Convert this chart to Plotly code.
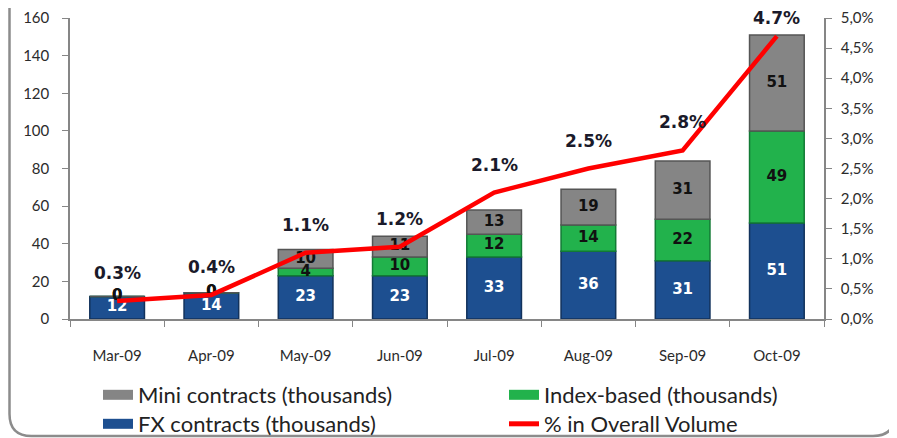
import plotly.graph_objects as go

months = ["Mar-09", "Apr-09", "May-09", "Jun-09", "Jul-09", "Aug-09", "Sep-09", "Oct-09"]
fx_contracts = [12, 14, 23, 23, 33, 36, 31, 51]
index_based = [0, 0, 4, 10, 12, 14, 22, 49]
mini_contracts = [0, 0, 10, 11, 13, 19, 31, 51]
pct_overall = [0.003, 0.004, 0.011, 0.012, 0.021, 0.025, 0.028, 0.047]
pct_labels = ["0.3%", "0.4%", "1.1%", "1.2%", "2.1%", "2.5%", "2.8%", "4.7%"]
left_ticks = [0, 20, 40, 60, 80, 100, 120, 140, 160]
right_ticks = [0, 0.005, 0.01, 0.015, 0.02, 0.025, 0.03, 0.035, 0.04, 0.045, 0.05]
right_ticktext = ["0,0%", "0,5%", "1,0%", "1,5%", "2,0%", "2,5%", "3,0%", "3,5%", "4,0%", "4,5%", "5,0%"]

# the page body adds an 8px margin, so the figure is shrunk by that much
# and every screen position below is shifted back by OFFSET
OFFSET = 8
W, H = 897 - OFFSET, 438 - OFFSET
M = {"l": 70 - OFFSET, "r": 73, "t": 18 - OFFSET, "b": 119, "autoexpand": False}

BLUE = "#1d4f90"
GREEN = "#22b24c"
GREY = "#858585"
RED = "#ff0000"
TICK_FONT = {"family": "Lato, Calibri, sans-serif", "size": 15, "color": "#2b2b2b"}
LABEL_FONT = "DejaVu Sans, Tahoma, sans-serif"


def px_x(px):
    return (px - OFFSET - M["l"]) / (W - M["l"] - M["r"])


def px_y(py):
    return (H - M["b"] - (py - OFFSET)) / (H - M["t"] - M["b"])


series = [
    ("FX contracts (thousands)", fx_contracts, BLUE, "#12325c", "white"),
    ("Index-based (thousands)", index_based, GREEN, "#127a34", "#111111"),
    ("Mini contracts (thousands)", mini_contracts, GREY, "#555555", "#111111"),
]

fig = go.Figure()

base = [0] * len(months)
label_sets = []
for name, vals, color, edge, txt_color in series:
    fig.add_trace(
        go.Bar(
            x=months,
            y=vals,
            base=base,
            name=name,
            marker={"color": color, "line": {"color": edge, "width": 1.5}},
            showlegend=False,
            hoverinfo="y+name",
        )
    )
    mids = [b + v / 2 for b, v in zip(base, vals)]
    label_sets.append((mids, vals, txt_color))
    base = [b + v for b, v in zip(base, vals)]

fig.add_trace(
    go.Scatter(
        x=months,
        y=pct_overall,
        yaxis="y2",
        mode="lines",
        name="% in Overall Volume",
        line={"color": RED, "width": 4.5},
        showlegend=False,
    )
)

# segment labels drawn on top of everything, like the source
for mids, vals, txt_color in label_sets:
    fig.add_trace(
        go.Scatter(
            x=months,
            y=mids,
            mode="text",
            text=[str(v) for v in vals],
            textfont={"family": LABEL_FONT, "size": 15, "color": txt_color, "weight": "bold"},
            showlegend=False,
            hoverinfo="skip",
        )
    )

# legend proxies: one legend per entry so each sits where the source has it
legend_items = [
    ("Mini contracts (thousands)", GREY, "legend", 98, 395),
    ("Index-based (thousands)", GREEN, "legend2", 504, 395),
    ("FX contracts (thousands)", BLUE, "legend3", 98, 424),
    ("% in Overall Volume", RED, "legend4", 504, 424),
]
legend_layout = {}
for name, color, leg, lx, ly in legend_items:
    width = 5 if color == RED else 12
    fig.add_trace(
        go.Scatter(
            x=[None], y=[None], mode="lines", name=name,
            line={"color": color, "width": width}, legend=leg,
        )
    )
    legend_layout[leg] = {
        "orientation": "h",
        "xanchor": "left",
        "yanchor": "middle",
        "x": px_x(lx),
        "y": px_y(ly),
        "itemwidth": 30,
        "font": {"family": "Lato, Calibri, sans-serif", "size": 22, "color": "#222222"},
        "bgcolor": "rgba(0,0,0,0)",
    }

for m, p, lab in zip(months, pct_overall, pct_labels):
    # the top label would run off the page, so it sits a bit closer to the line
    shift = 28 if p < 0.04 else 18
    fig.add_annotation(
        x=m, y=p, yref="y2", text=f"<b>{lab}</b>", showarrow=False,
        yshift=shift, font={"family": LABEL_FONT, "size": 17, "color": "#1a1a2a"},
    )

# rounded frame around the chart
x0, x1 = px_x(OFFSET + 1.5), px_x(895)
y0, y1 = px_y(436), px_y(-20)
rx = 22 / (W - M["l"] - M["r"])
ry = 22 / (H - M["t"] - M["b"])
frame = (
    f"M{x0},{y1} L{x0},{y0 + ry} Q{x0},{y0} {x0 + rx},{y0} "
    f"L{x1 - rx},{y0} Q{x1},{y0} {x1},{y0 + ry} L{x1},{y1}"
)
fig.add_shape(type="path", path=frame, xref="paper", yref="paper",
              line={"color": "#8c8c8c", "width": 2.5}, layer="below")

axis_common = {
    "ticks": "outside",
    "ticklen": 6,
    "tickcolor": "#868686",
    "showline": True,
    "linecolor": "#868686",
    "linewidth": 1.5,
    "showgrid": False,
    "tickfont": TICK_FONT,
}

fig.update_layout(
    width=W,
    height=H,
    margin=M,
    paper_bgcolor="white",
    plot_bgcolor="white",
    barmode="overlay",
    bargap=0.42,
    xaxis={**axis_common, "type": "category", "tickson": "boundaries", "ticklabelstandoff": 22},
    yaxis={**axis_common, "range": [0, 160], "tickvals": left_ticks, "zeroline": False,
           "ticklabelstandoff": 10},
    yaxis2={**axis_common, "overlaying": "y", "side": "right", "range": [0, 0.05],
            "tickvals": right_ticks, "ticktext": right_ticktext, "zeroline": False,
            "ticklabelstandoff": 6},
    **legend_layout,
)

fig.write_html("out.html")
